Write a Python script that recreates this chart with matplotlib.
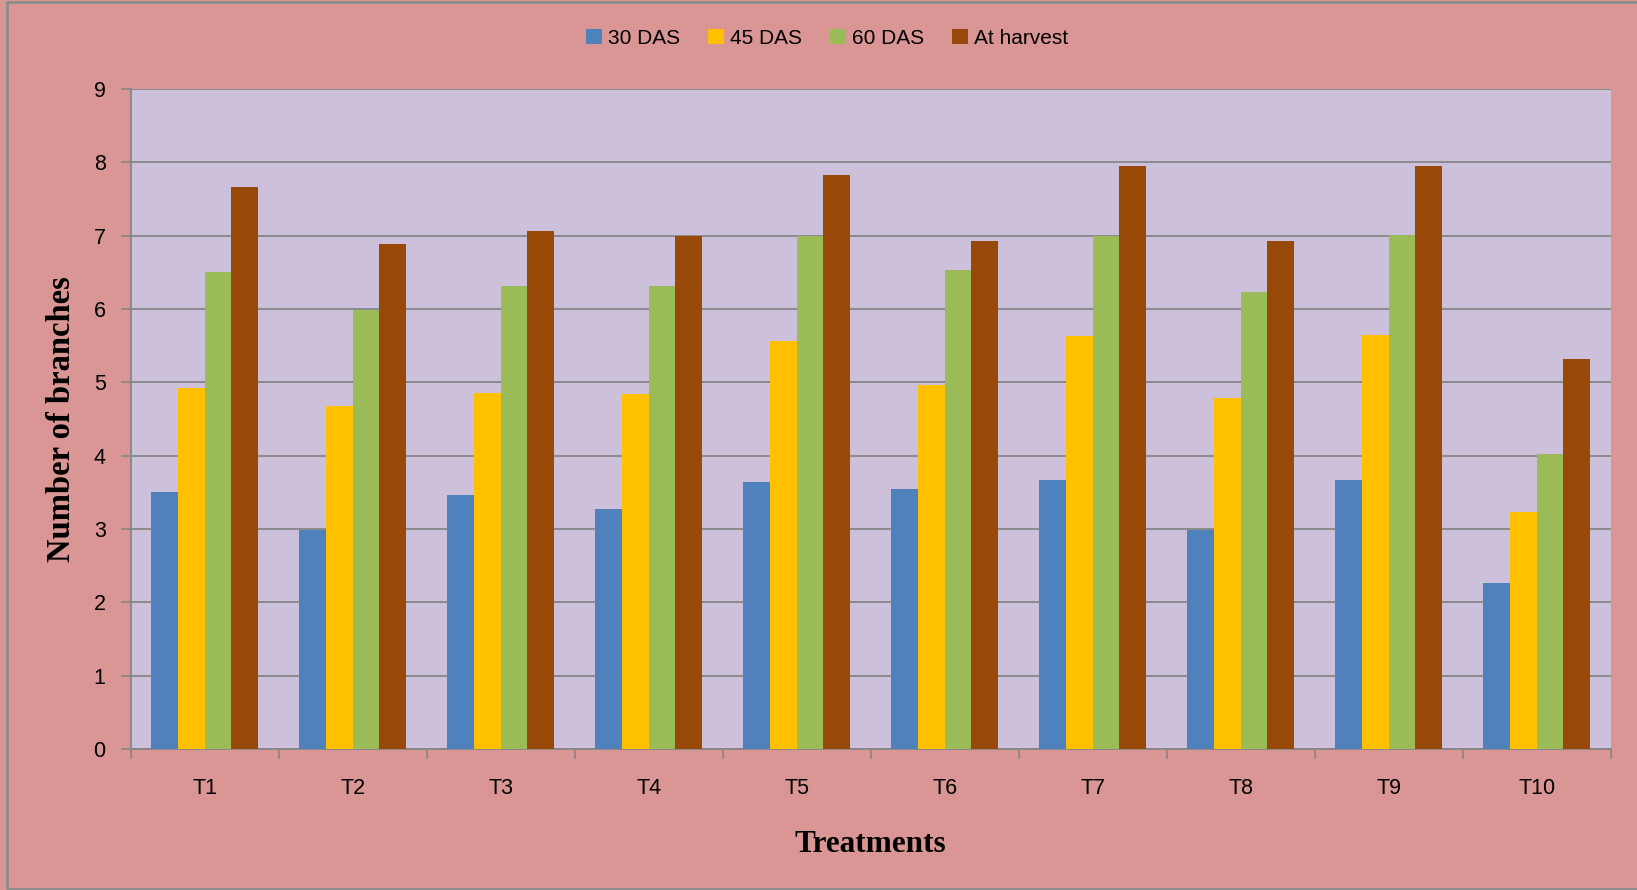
import matplotlib
matplotlib.use("Agg")
import matplotlib.pyplot as plt
import numpy as np
from matplotlib.patches import Rectangle

categories = ["T1", "T2", "T3", "T4", "T5", "T6", "T7", "T8", "T9", "T10"]
series_names = ["30 DAS", "45 DAS", "60 DAS", "At harvest"]
das30 = [3.50, 2.98, 3.47, 3.27, 3.64, 3.55, 3.67, 2.99, 3.67, 2.26]
das45 = [4.92, 4.68, 4.86, 4.84, 5.56, 4.96, 5.63, 4.78, 5.65, 3.23]
das60 = [6.51, 5.98, 6.32, 6.31, 6.99, 6.53, 6.99, 6.23, 7.01, 4.02]
harvest = [7.67, 6.88, 7.06, 6.99, 7.83, 6.93, 7.95, 6.93, 7.95, 5.32]
yticks = [0, 1, 2, 3, 4, 5, 6, 7, 8, 9]

colors = ["#4F81BD", "#FFC000", "#9BBB59", "#984807"]
fig_bg = "#D99694"
ax_bg = "#CCC0DA"
grid_c = "#868686"

W, H = 1637, 890
fig = plt.figure(figsize=(W / 100, H / 100), dpi=100, facecolor=fig_bg)
ax = fig.add_axes([130.7 / W, 1 - 749 / H, (1610.7 - 130.7) / W, (749 - 89) / H])
ax.set_facecolor(ax_bg)

x = np.arange(len(categories))
bw = 0.18
data = [das30, das45, das60, harvest]
handles = []
for i, (vals, c, name) in enumerate(zip(data, colors, series_names)):
    h = ax.bar(x + (i - 1.5) * bw, vals, width=bw, color=c, label=name, zorder=3)
    handles.append(h)

ax.set_xlim(-0.5, len(categories) - 0.5)
ax.set_ylim(0, 9)
ax.set_yticks(yticks)
ax.set_yticklabels([str(t) for t in yticks], fontsize=15.5, family="Liberation Sans")
ax.set_xticks(x)
ax.set_xticklabels(categories, fontsize=15.5, family="Liberation Sans")
ax.tick_params(axis="x", which="major", length=0, pad=21)
ax.set_xticks(np.arange(-0.5, len(categories)), minor=True)
ax.tick_params(axis="x", which="minor", length=7, width=1.2, color=grid_c, direction="out")
ax.tick_params(axis="y", length=7, width=1.2, color=grid_c, direction="out", pad=11)
ax.grid(axis="y", color=grid_c, linewidth=1.3, zorder=1)

for s in ["top", "right"]:
    ax.spines[s].set_visible(False)
for s in ["left", "bottom"]:
    ax.spines[s].set_color(grid_c)
    ax.spines[s].set_linewidth(1.3)

ax.set_ylabel("Number of branches", fontsize=23.5, fontweight="bold",
              family="Liberation Serif", labelpad=12)
ax.set_xlabel("Treatments", fontsize=22.5, fontweight="bold",
              family="Liberation Serif", labelpad=22)

fig.legend(handles=handles, labels=series_names, loc="center",
           bbox_to_anchor=(827 / W, 1 - 38.6 / H), ncol=4, frameon=False,
           prop={"family": "Liberation Sans", "size": 15},
           handlelength=0.75, handleheight=0.75, handletextpad=0.3,
           columnspacing=1.35)

fig.patches.append(Rectangle((7 / W, 1.5 / H), (W + 20) / W, (H - 3) / H,
                             transform=fig.transFigure, fill=False,
                             edgecolor="#8C8C8C", linewidth=2))

fig.savefig("out.png", dpi=100, facecolor=fig_bg)
